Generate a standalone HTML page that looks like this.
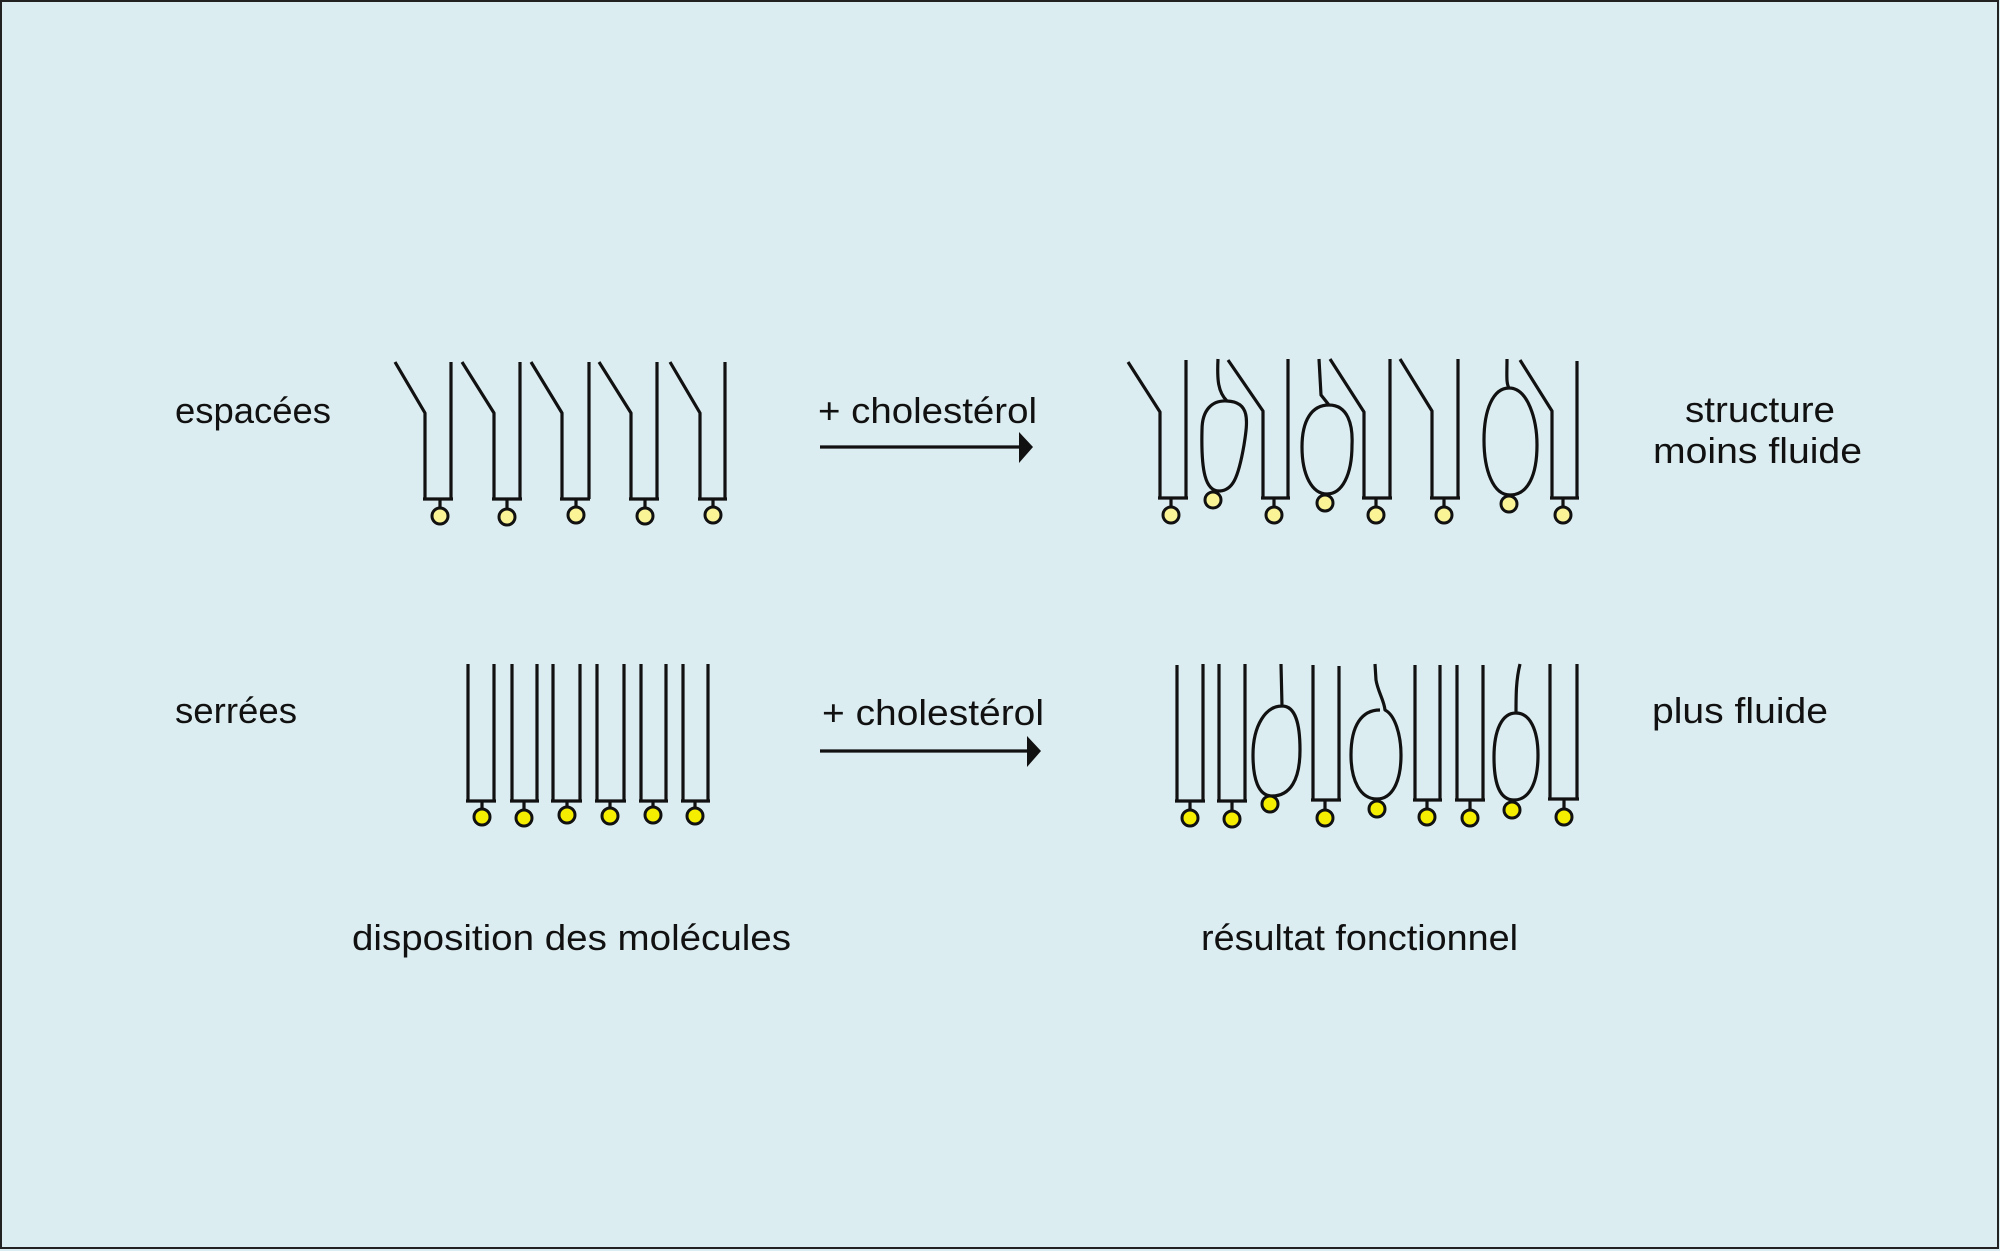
<!DOCTYPE html>
<html><head><meta charset="utf-8"><style>
html,body{margin:0;padding:0;background:#dcedf1;}
svg{display:block;}
text{font-family:"Liberation Sans",sans-serif;font-size:36px;fill:#111;}
</style></head><body>
<svg width="2000" height="1251" viewBox="0 0 2000 1251" xmlns="http://www.w3.org/2000/svg">
<rect x="0" y="0" width="2000" height="1251" fill="#dcedf1"/>
<rect x="1" y="1" width="1997" height="1247" fill="none" stroke="#222" stroke-width="2"/>
<g stroke="#111" stroke-width="3.2" fill="none" stroke-linejoin="round">
<!-- row1 left -->
<path d="M395 362 L425 413 L425 499 M451 362 L451 499 M423 499 L453 499 M440 499 L440 508"/>
<path d="M462 362 L494 413 L494 499 M520 362 L520 499 M492 499 L522 499 M507 499 L507 508"/>
<path d="M531 362 L562 413 L562 499 M589 362 L589 499 M560 499 L590 499 M576 499 L576 508"/>
<path d="M599 362 L631 413 L631 499 M657 362 L657 499 M629 499 L659 499 M645 499 L645 508"/>
<path d="M670 362 L700 413 L700 499 M725 362 L725 499 M698 499 L727 499 M713 499 L713 508"/>
<!-- row1 right -->
<path d="M1128 362 L1160 412 L1160 498 M1186 360 L1186 498 M1158 498 L1188 498 M1171 498 L1171 507"/>
<path d="M1228 360 L1263 411 L1263 498 M1288 359 L1288 498 M1261 498 L1290 498 M1274 498 L1274 507"/>
<path d="M1330 359 L1364 412 L1364 498 M1390 359 L1390 498 M1362 498 L1392 498 M1376 498 L1376 507"/>
<path d="M1400 359 L1432 411 L1432 498 M1458 359 L1458 498 M1430 498 L1460 498 M1444 498 L1444 507"/>
<path d="M1520 360 L1552 411 L1552 498 M1577 361 L1577 498 M1550 498 L1579 498 M1563 498 L1563 507"/>
<path d="M1218 359 C1217 380 1218 392 1227 401 C1250 402 1248 420 1244 445 C1238 480 1232 490 1220 491 C1205 492 1201 470 1202 430 C1202 410 1212 400 1227 401"/>
<path d="M1319 359 L1321 395 L1329 405 C1348 405 1353 425 1352 445 C1352 475 1342 494 1327 494 C1312 494 1302 475 1302 447 C1302 420 1312 405 1329 405"/>
<path d="M1507 359 C1507 375 1506 383 1509 388 C1528 388 1537 420 1537 445 C1537 475 1528 495 1510 495 C1493 495 1484 470 1484 440 C1484 410 1493 388 1509 388"/>
<!-- row2 left -->
<path d="M468 664 L468 801 M494 664 L494 801 M466 801 L496 801 M482 801 L482 810"/>
<path d="M512 664 L512 801 M537 664 L537 801 M510 801 L539 801 M524 801 L524 810"/>
<path d="M553 664 L553 801 M580 664 L580 801 M551 801 L582 801 M567 801 L567 810"/>
<path d="M597 664 L597 801 M624 664 L624 801 M595 801 L626 801 M610 801 L610 810"/>
<path d="M641 664 L641 801 M666 664 L666 801 M639 801 L668 801 M653 801 L653 810"/>
<path d="M683 664 L683 801 M708 664 L708 801 M681 801 L710 801 M695 801 L695 810"/>
<!-- row2 right -->
<path d="M1177 665 L1177 801 M1203 664 L1203 801 M1175 801 L1205 801 M1190 801 L1190 810"/>
<path d="M1219 664 L1219 801 M1245 664 L1245 801 M1217 801 L1247 801 M1232 801 L1232 810"/>
<path d="M1313 665 L1313 800 M1339 666 L1339 800 M1311 800 L1341 800 M1325 800 L1325 809"/>
<path d="M1415 665 L1415 800 M1440 665 L1440 800 M1413 800 L1442 800 M1427 800 L1427 809"/>
<path d="M1457 665 L1457 800 M1483 665 L1483 800 M1455 800 L1485 800 M1470 800 L1470 809"/>
<path d="M1550 664 L1550 799 M1577 664 L1577 799 M1548 799 L1579 799 M1564 799 L1564 808"/>
<path d="M1281 664 L1282 706 C1296 706 1300 725 1300 750 C1300 780 1290 796 1272 796 C1258 796 1253 778 1253 755 C1253 725 1266 706 1282 706"/>
<path d="M1375 664 L1376 680 C1378 692 1384 700 1385 710 C1395 715 1401 735 1401 755 C1401 782 1392 799 1377 799 C1360 799 1351 780 1351 755 C1351 725 1362 710 1380 710"/>
<path d="M1520 664 C1516 680 1516 695 1516 713 C1530 713 1538 730 1538 755 C1538 785 1528 800 1514 800 C1500 800 1494 785 1494 757 C1494 730 1502 713 1516 713"/>
<!-- arrows -->
<path d="M820 447 L1022 447 M820 751 L1030 751"/>
</g>
<g fill="#111">
<polygon points="1019,432 1033,447 1019,463"/>
<polygon points="1027,736 1041,751 1027,767"/>
</g>
<g stroke="#111" stroke-width="3" fill="#fbf496">
<circle cx="440" cy="516" r="8"/><circle cx="507" cy="517" r="8"/><circle cx="576" cy="515" r="8"/><circle cx="645" cy="516" r="8"/><circle cx="713" cy="515" r="8"/>
<circle cx="1171" cy="515" r="8"/><circle cx="1213" cy="500" r="8"/><circle cx="1274" cy="515" r="8"/><circle cx="1325" cy="503" r="8"/><circle cx="1376" cy="515" r="8"/><circle cx="1444" cy="515" r="8"/><circle cx="1509" cy="504" r="8"/><circle cx="1563" cy="515" r="8"/>
</g>
<g stroke="#111" stroke-width="3" fill="#f6ee00">
<circle cx="482" cy="817" r="8"/><circle cx="524" cy="818" r="8"/><circle cx="567" cy="815" r="8"/><circle cx="610" cy="816" r="8"/><circle cx="653" cy="815" r="8"/><circle cx="695" cy="816" r="8"/>
<circle cx="1190" cy="818" r="8"/><circle cx="1232" cy="819" r="8"/><circle cx="1270" cy="804" r="8"/><circle cx="1325" cy="818" r="8"/><circle cx="1377" cy="809" r="8"/><circle cx="1427" cy="817" r="8"/><circle cx="1470" cy="818" r="8"/><circle cx="1512" cy="810" r="8"/><circle cx="1564" cy="817" r="8"/>
</g>
<text x="175" y="423" textLength="156" lengthAdjust="spacingAndGlyphs">espacées</text>
<text x="175" y="723" textLength="122" lengthAdjust="spacingAndGlyphs">serrées</text>
<text x="818" y="423" textLength="219" lengthAdjust="spacingAndGlyphs">+ cholestérol</text>
<text x="822" y="725" textLength="222" lengthAdjust="spacingAndGlyphs">+ cholestérol</text>
<text x="1685" y="422" textLength="150" lengthAdjust="spacingAndGlyphs">structure</text>
<text x="1653" y="463" textLength="209" lengthAdjust="spacingAndGlyphs">moins fluide</text>
<text x="1652" y="723" textLength="176" lengthAdjust="spacingAndGlyphs">plus fluide</text>
<text x="352" y="950" textLength="439" lengthAdjust="spacingAndGlyphs">disposition des molécules</text>
<text x="1201" y="950" textLength="317" lengthAdjust="spacingAndGlyphs">résultat fonctionnel</text>
</svg>
</body></html>
